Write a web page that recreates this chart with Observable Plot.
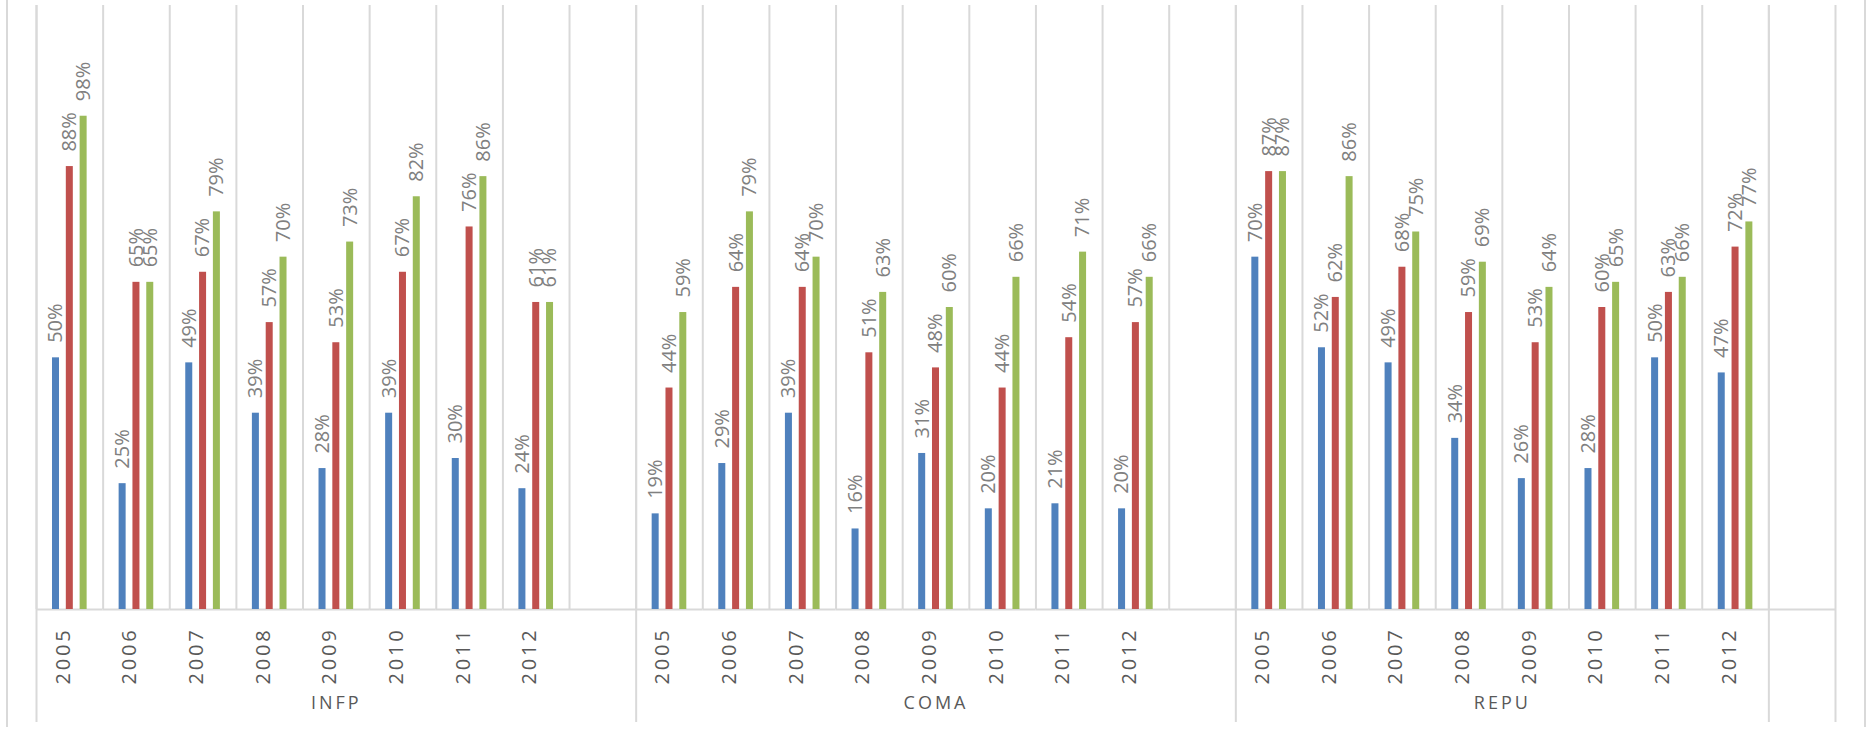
<!DOCTYPE html>
<html>
<head>
<meta charset="utf-8">
<script src="https://cdn.jsdelivr.net/npm/d3@7"></script>
<script src="https://cdn.jsdelivr.net/npm/@observablehq/plot@0.6"></script>
<style>
  html, body { margin: 0; padding: 0; background: #fff; overflow: hidden; }
  #wrap { position: relative; width: 1868px; height: 732px; }
  #border { position: absolute; left: 6px; top: 0; width: 1860px; height: 727px;
            border-left: 2px solid #d9d9d9; border-right: 2px solid #d9d9d9; box-sizing: border-box; pointer-events: none; }
  #wrap svg { display: block; }
  g[aria-description="year-labels"] text { letter-spacing: 2.8px; }
  g[aria-description="group-labels"] text { letter-spacing: 3px; }
</style>
</head>
<body>
<div id="wrap"><div id="border"></div></div>
<script>
// ---- data ----
const years = [2005, 2006, 2007, 2008, 2009, 2010, 2011, 2012];
const groups = ["INFP", "COMA", "REPU"];
const seriesNames = ["Série 1", "Série 2", "Série 3"];
const seriesColors = ["#4F81BD", "#C0504D", "#9BBB59"];

const infpBlue  = [50, 25, 49, 39, 28, 39, 30, 24];
const infpRed   = [88, 65, 67, 57, 53, 67, 76, 61];
const infpGreen = [98, 65, 79, 70, 73, 82, 86, 61];

const comaBlue  = [19, 29, 39, 16, 31, 20, 21, 20];
const comaRed   = [44, 64, 64, 51, 48, 44, 54, 57];
const comaGreen = [59, 79, 70, 63, 60, 66, 71, 66];

const repuBlue  = [70, 52, 49, 34, 26, 28, 50, 47];
const repuRed   = [87, 62, 68, 59, 53, 60, 63, 72];
const repuGreen = [87, 86, 75, 69, 64, 65, 66, 77];

// category axis: each group's years, with the blank categories of the source sheet
const axisGroups = [
  {name: "INFP", cats: [...years, ""]},
  {name: "COMA", cats: [...years, ""]},
  {name: "REPU", cats: [...years]},
  {name: "",     cats: [""]}
];

const valuesByGroup = {
  INFP: [infpBlue, infpRed, infpGreen],
  COMA: [comaBlue, comaRed, comaGreen],
  REPU: [repuBlue, repuRed, repuGreen]
};

// ---- derived tables ----
const slots = [];
axisGroups.forEach(g => g.cats.forEach(c => slots.push({key: `${g.name}|${c}`, group: g.name, year: c})));
const slotKeys = slots.map(s => s.key);

const data = [];
groups.forEach(g => {
  valuesByGroup[g].forEach((arr, si) => {
    arr.forEach((v, yi) => data.push({key: `${g}|${years[yi]}`, series: seriesNames[si], value: v}));
  });
});

// ---- layout ----
const W = 1868, H = 732, ML = 36, MR = 33, MT = 5, MB = 123;
const slotW = (W - ML - MR) / slotKeys.length;
const gridColor = "#d9d9d9";

const groupStarts = axisGroups.map(g => ({key: `${g.name}|${g.cats[0]}`}));
const lastSlot = [{key: slotKeys[slotKeys.length - 1]}];

const groupLabelMarks = axisGroups.filter(g => g.name).map(g => {
  const mid = (g.cats.length - 1) / 2;
  const idx = Math.floor(mid);
  return Plot.text([{key: `${g.name}|${g.cats[idx]}`, name: g.name}], {
    fx: "key", x: null, y: null, text: "name", frameAnchor: "bottom",
    dy: 99, dx: (mid - idx) * slotW, fontSize: 18, fill: "#595959",
    ariaDescription: "group-labels"
  });
});

const chart = Plot.plot({
  width: W, height: H,
  marginLeft: ML, marginRight: MR, marginTop: MT, marginBottom: MB,
  style: {fontFamily: "'Open Sans', 'Noto Sans', sans-serif", background: "transparent", overflow: "visible"},
  fx: {domain: slotKeys, padding: 0, round: false, axis: null, label: null},
  x: {domain: seriesNames, paddingInner: 0.493, paddingOuter: 1.158, round: false, axis: null, label: null},
  y: {domain: [0, 120], axis: null, label: null},
  color: {domain: seriesNames, range: seriesColors},
  marks: [
    // vertical gridlines at category boundaries
    Plot.ruleX(slots, {fx: "key", x: null, dx: -slotW / 2, stroke: gridColor, strokeWidth: 2}),
    // group separators extending below the axis
    Plot.ruleX(groupStarts, {fx: "key", x: null, dx: -slotW / 2, insetBottom: -113, stroke: gridColor, strokeWidth: 2}),
    Plot.ruleX(lastSlot, {fx: "key", x: null, dx: slotW / 2, insetBottom: -113, stroke: gridColor, strokeWidth: 2}),
    // baseline
    Plot.ruleY([0], {stroke: gridColor, strokeWidth: 2}),
    // bars
    Plot.barY(data, {fx: "key", x: "series", y: "value", fill: "series"}),
    // data labels
    Plot.text(data, {
      fx: "key", x: "series", y: "value", text: d => `${d.value}%`,
      rotate: -90, textAnchor: "start", dy: -15, fontSize: 20, fill: "#808080"
    }),
    // year tick labels
    Plot.text(slots.filter(s => s.year !== ""), {
      fx: "key", x: null, y: null, text: d => String(d.year), frameAnchor: "bottom",
      rotate: -90, textAnchor: "end", dy: 18, fontSize: 20, fill: "#595959",
      ariaDescription: "year-labels"
    }),
    ...groupLabelMarks
  ]
});

document.getElementById("wrap").appendChild(chart);
</script>
</body>
</html>
